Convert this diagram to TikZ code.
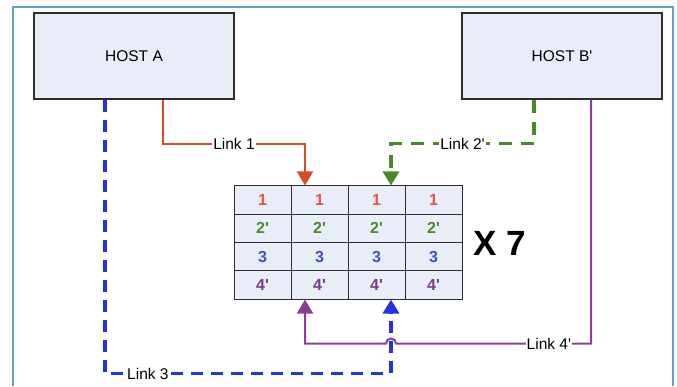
\documentclass[tikz,border=0pt]{standalone}
\usepackage{fontspec}
\setmainfont{Liberation Sans}[Ligatures=TeXOff]
\usetikzlibrary{arrows.meta,positioning,calc}
\definecolor{frameblue}{RGB}{98,158,214}
\definecolor{hostfill}{RGB}{232,237,247}
\definecolor{hostline}{RGB}{45,45,45}
\definecolor{linkred}{RGB}{212,78,36}
\definecolor{linkgreen}{RGB}{72,138,40}
\definecolor{linkblue}{RGB}{32,52,228}
\definecolor{linkpurple}{RGB}{140,62,150}
\definecolor{digred}{RGB}{236,82,68}
\definecolor{diggreen}{RGB}{78,138,48}
\definecolor{digblue}{RGB}{62,82,200}
\definecolor{digpurple}{RGB}{122,58,140}

\begin{document}
\begin{tikzpicture}[
    x=1pt, y=-1pt,
    font=\fontsize{15.5}{18}\selectfont,
    host/.style={draw=hostline, fill=hostfill, line width=1.3pt, minimum width=200pt, minimum height=86pt, inner sep=0pt},
    cell/.style={draw=hostline, fill=hostfill, line width=1pt, minimum width=57pt, minimum height=28.25pt, inner sep=0pt, font=\fontsize{16}{18}\selectfont\bfseries},
    one/.style={cell, text=digred},
    two/.style={cell, text=diggreen},
    three/.style={cell, text=digblue},
    four/.style={cell, text=digpurple},
    lbl/.style={fill=white, inner sep=1pt, text=black},
    tip/.style={-{Triangle[width=16pt,length=14pt]}},
    link1/.style={tip, draw=linkred, line width=2pt},
    link2/.style={tip, draw=linkgreen, line width=3.3pt, dash pattern=on 13pt off 9pt},
    link3/.style={tip, draw=linkblue, line width=3.3pt, dash pattern=on 12pt off 8pt},
    link4/.style={tip, draw=linkpurple, line width=2pt}
]
\useasboundingbox (0,0) rectangle (677,386);

% ===================== FRAME =====================
\draw[frameblue, line width=1.5pt] (13,386) -- (13,7) -- (673,7) -- (673,386);

% ===================== HOSTS =====================
\node[host] (hostA) at (134,56) {HOST A};
\node[host] (hostB) at (562,56) {HOST B'};

% ===================== TABLE =====================
\node[one] (c11) at (262.5,200.1) {1};
\node[one] (c12) at (319.5,200.1) {1};
\node[one] (c13) at (376.5,200.1) {1};
\node[one] (c14) at (433.5,200.1) {1};

\node[two] (c21) at (262.5,228.4) {2'};
\node[two] (c22) at (319.5,228.4) {2'};
\node[two] (c23) at (376.5,228.4) {2'};
\node[two] (c24) at (433.5,228.4) {2'};

\node[three] (c31) at (262.5,256.6) {3};
\node[three] (c32) at (319.5,256.6) {3};
\node[three] (c33) at (376.5,256.6) {3};
\node[three] (c34) at (433.5,256.6) {3};

\node[four] (c41) at (262.5,284.9) {4'};
\node[four] (c42) at (319.5,284.9) {4'};
\node[four] (c43) at (376.5,284.9) {4'};
\node[four] (c44) at (433.5,284.9) {4'};

\node[font=\fontsize{35}{40}\selectfont\bfseries] (times) at (500,243) {X 7};

% ===================== LINK ENDS =====================
\coordinate (in1) at ([xshift=-14.5pt]c12.north);
\coordinate (in2) at ([xshift=14.5pt]c13.north);
\coordinate (in3) at ([xshift=14.5pt]c43.south);
\coordinate (in4) at ([xshift=-14.5pt]c42.south);
\coordinate (turn3) at ($(in3)+(0,74)$);
\coordinate (cross) at ($(in3)+(0,44)$);

% ===================== LINKS =====================
\draw[link1] ([xshift=29pt]hostA.south) -- ++(0,44)
    -| node[lbl, pos=0.25] {Link 1} (in1);
\draw[link2] ([xshift=-28pt]hostB.south) -- ++(0,44)
    -| node[lbl, pos=0.25] {Link 2'} (in2);
\draw[link3] ([xshift=-29pt]hostA.south)
    |- node[lbl, pos=0.575] {Link 3} (turn3) -- (in3);
\draw[link4] ([xshift=29pt]hostB.south)
    |- node[lbl, pos=0.608] {Link 4'} ([xshift=5pt]cross)
    arc[start angle=0, end angle=180, radius=5pt]
    -- (in4 |- cross) -- (in4);

\end{tikzpicture}
\end{document}
